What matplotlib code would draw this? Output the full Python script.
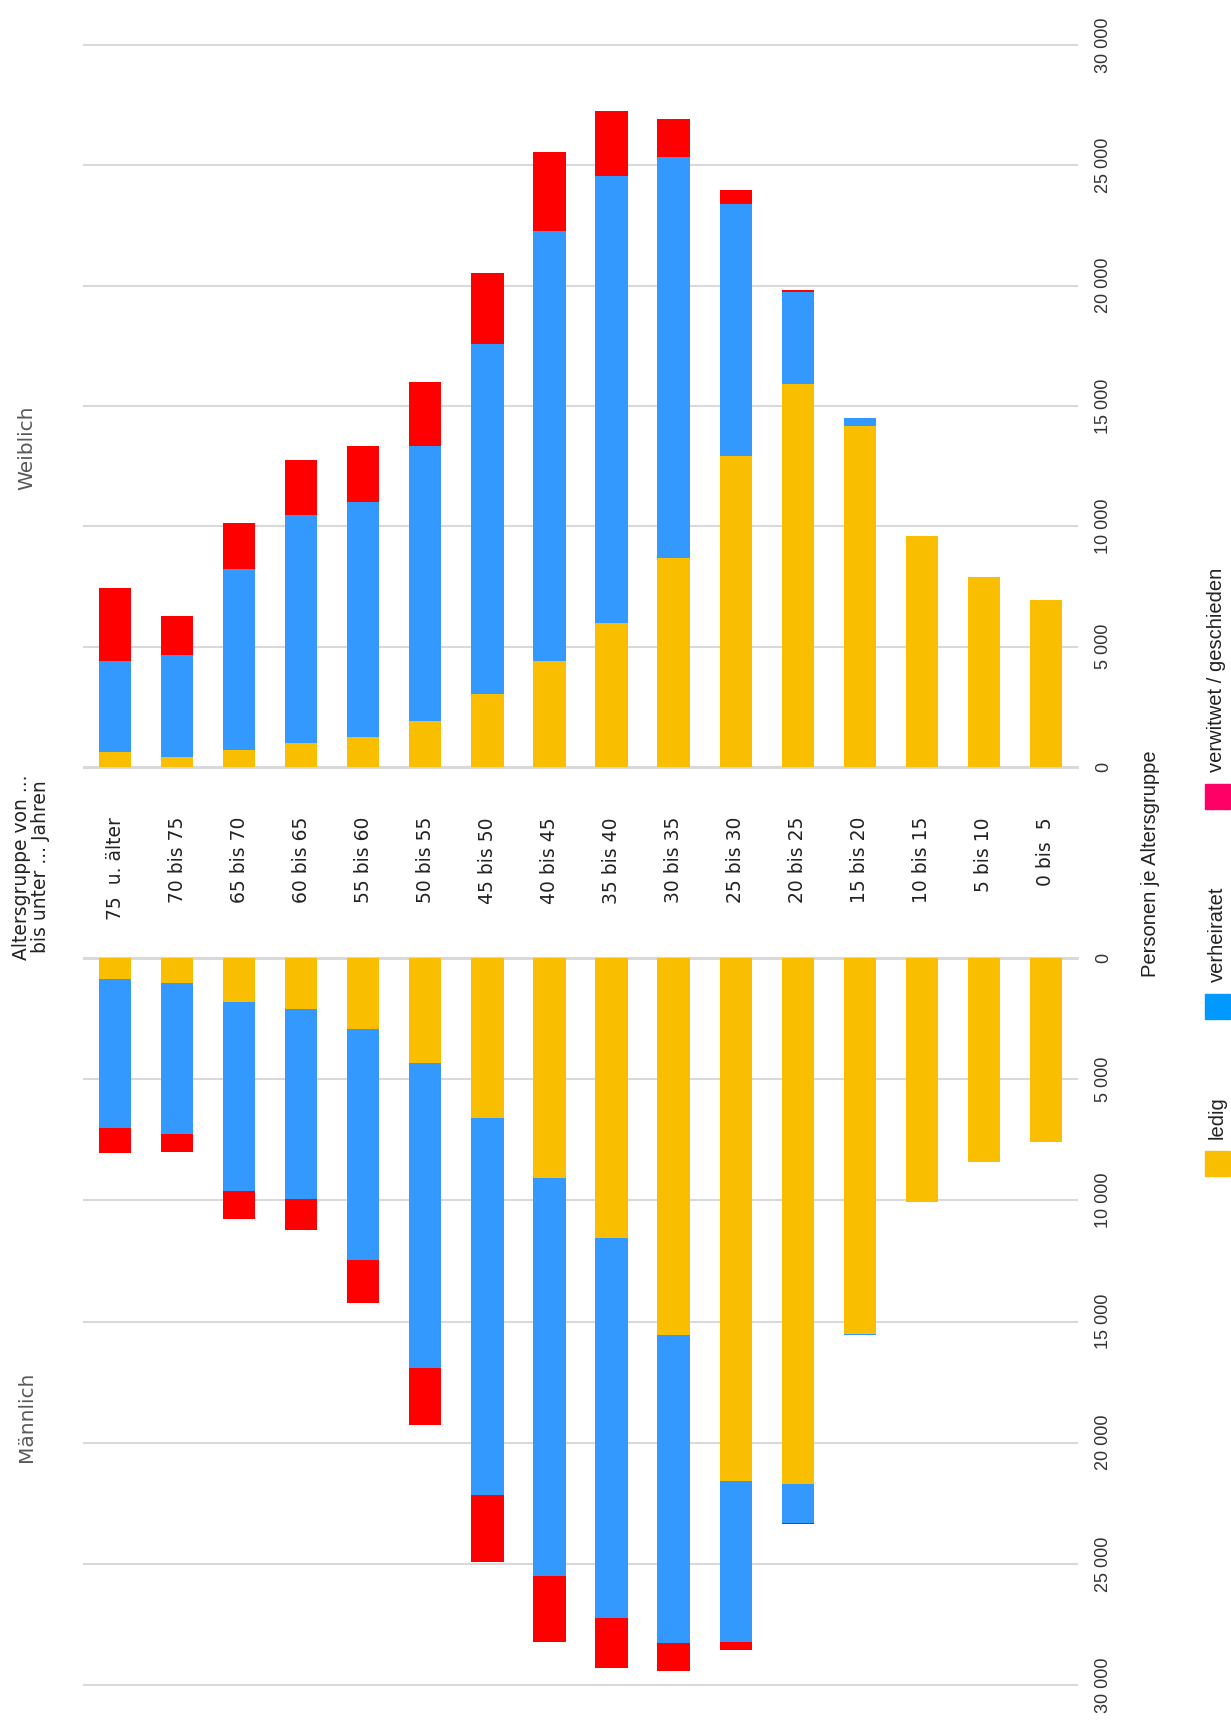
import matplotlib
matplotlib.use('Agg')
import matplotlib.pyplot as plt
from matplotlib.patches import Rectangle

# --- DATEN ---
altersgruppen = ['75  u. älter', '70 bis 75', '65 bis 70', '60 bis 65', '55 bis 60',
                 '50 bis 55', '45 bis 50', '40 bis 45', '35 bis 40', '30 bis 35',
                 '25 bis 30', '20 bis 25', '15 bis 20', '10 bis 15', '5 bis 10', '0 bis  5']

w_ledig = [640, 410, 690, 1010, 1230, 1920, 3020, 4390, 5990, 8690,
           12940, 15910, 14180, 9600, 7910, 6950]
w_verheiratet = [3750, 4250, 7540, 9460, 9790, 11430, 14540, 17880, 18570, 16650,
                 10470, 3840, 320, 0, 0, 0]
w_verwitwet = [3060, 1600, 1920, 2290, 2330, 2650, 2970, 3290, 2700, 1600,
               550, 90, 0, 0, 0, 0]

m_ledig = [860, 1040, 1810, 2090, 2950, 4350, 6620, 9060, 11560, 15550,
           21570, 21710, 15500, 10060, 8430, 7610]
m_verheiratet = [6160, 6210, 7800, 7840, 9510, 12550, 15540, 16450, 15680, 12730,
                 6660, 1590, 60, 0, 0, 0]
m_verwitwet = [1040, 770, 1180, 1310, 1770, 2360, 2770, 2720, 2040, 1130,
               320, 50, 0, 0, 0, 0]

y_ticks = [0, 5000, 10000, 15000, 20000, 25000, 30000]
legende = ['ledig', 'verheiratet', 'verwitwet / geschieden']

GELB = '#F9BE00'
BLAU = '#3399FF'
ROT = '#FF0000'
FARBEN_LEGENDE = ['#F9BE00', '#0099FF', '#FF0066']
GRID = '#D9D9D9'
SCHMAL = ['Liberation Sans', 'DejaVu Sans']

W, H = 1231, 1722
fig = plt.figure(figsize=(W / 100, H / 100), dpi=100)

L = 84 / W
B = 993 / W
ax_w = fig.add_axes([L, 1 - 767 / H, B, (767 - 45) / H])
ax_m = fig.add_axes([L, 1 - 1685 / H, B, (1685 - 958) / H])

x = list(range(len(altersgruppen)))
breite = 0.52


def stapel(ax, ledig, verh, verw):
    boden2 = [a + b for a, b in zip(ledig, verh)]
    ax.bar(x, ledig, breite, color=GELB, zorder=3)
    ax.bar(x, verh, breite, bottom=ledig, color=BLAU, zorder=3)
    ax.bar(x, verw, breite, bottom=boden2, color=ROT, zorder=3)


stapel(ax_w, w_ledig, w_verheiratet, w_verwitwet)
stapel(ax_m, m_ledig, m_verheiratet, m_verwitwet)

for ax in (ax_w, ax_m):
    ax.set_xlim(-0.5, 15.5)
    for s in ax.spines.values():
        s.set_visible(False)
    for t in y_ticks:
        ax.axhline(t, color=GRID, lw=2.2 if t == 0 else 1.5, zorder=1, clip_on=False)
    ax.yaxis.tick_right()
    ax.set_yticks(y_ticks)
    ax.set_yticklabels([f'{v:,}'.replace(',', ' ') for v in y_ticks],
                       family=SCHMAL, fontsize=13, color='#333333')
    ax.tick_params(axis='y', length=0, pad=13, labelrotation=90)
    for t in ax.get_yticklabels():
        t.set_va('center')

ax_w.set_ylim(0, 30000)
ax_m.set_ylim(30000, 0)

ax_w.set_xticks(x)
ax_w.set_xticklabels(altersgruppen, rotation=90, fontsize=13.5, color='#222222')
ax_w.tick_params(axis='x', length=0, pad=36)
ax_m.set_xticks([])

# Beschriftungen
fig.text(27 / W, 1 - 448 / H, 'Weiblich', rotation=90, ha='center', va='center',
         fontsize=14.5, color='#595959')
fig.text(27 / W, 1 - 1417 / H, 'Männlich', rotation=90, ha='center', va='center',
         fontsize=14.5, color='#595959')
fig.text(31 / W, 1 - 867 / H, 'Altersgruppe von ...\nbis unter ... Jahren', rotation=90,
         ha='center', va='center', fontsize=13.5, color='#222222',
         multialignment='center', linespacing=1.0)
fig.text(1151 / W, 1 - 864 / H, 'Personen je Altersgruppe', rotation=90, ha='center',
         va='center', family=SCHMAL, fontsize=14.5, color='#222222')

# Legende
for name, farbe, yc in zip(legende, FARBEN_LEGENDE, [1163, 1006, 796]):
    fig.patches.append(Rectangle(((1217 - 12.5) / W, 1 - (yc + 12.5) / H), 25 / W, 25 / H,
                                 transform=fig.transFigure, color=farbe))
    fig.text(1217 / W, 1 - (yc - 24) / H, name, rotation=90, ha='center', va='bottom',
             family=SCHMAL, fontsize=14.5, color='#222222')

fig.savefig('out.png', dpi=100)
